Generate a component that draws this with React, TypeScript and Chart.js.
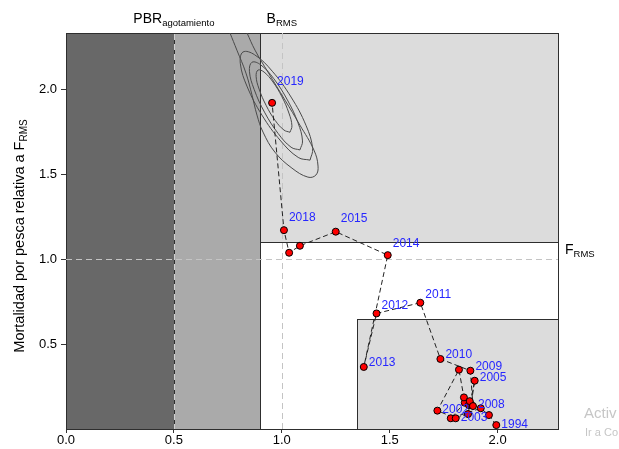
import React, { useEffect, useRef } from "react";
import { Chart, registerables } from "chart.js";

Chart.register(...registerables);

// ---------- data ----------
const years = [1994, 1995, 1996, 1997, 1998, 1999, 2000, 2001, 2002, 2003, 2004, 2005, 2006, 2007, 2008, 2009, 2010, 2011, 2012, 2013, 2014, 2015, 2016, 2017, 2018, 2019];
// biomass relative to B_RMS (x)
const bRel = [1.994, 1.960, 1.922, 1.783, 1.848, 1.867, 1.844, 1.821, 1.721, 1.806, 1.863, 1.894, 1.877, 1.871, 1.886, 1.874, 1.735, 1.642, 1.439, 1.380, 1.491, 1.250, 1.084, 1.034, 1.010, 0.955];
// fishing mortality relative to F_RMS (y)
const fRel = [0.023, 0.082, 0.122, 0.063, 0.155, 0.141, 0.186, 0.349, 0.108, 0.063, 0.088, 0.284, 0.144, 0.164, 0.135, 0.343, 0.412, 0.743, 0.680, 0.365, 1.023, 1.161, 1.078, 1.037, 1.170, 1.919];
const labeledYears = [1994, 2002, 2003, 2005, 2008, 2009, 2010, 2011, 2012, 2013, 2014, 2015, 2018, 2019];

const xTicks = [0, 0.5, 1.0, 1.5, 2.0];
const yTicks = [0.5, 1.0, 1.5, 2.0];

// reference values
const PBR_AGOT = 0.5;
const B_LIM = 0.9;
const B_RMS = 1.0;
const F_RMS = 1.0;
const F_UPPER = 1.1;
const BOX_B = 1.35;
const BOX_F = 0.65;
const X_MAX = 2.28;
const Y_MAX = 2.33;

// density contours around the last year (outer -> inner)
const contourOuterX = [0.760, 0.792, 0.834, 0.862, 0.885, 0.913, 0.968, 1.047, 1.121, 1.158, 1.168, 1.149, 1.084, 1.015, 0.936, 0.876, 0.839];
const contourOuterY = [2.33, 2.229, 2.094, 1.965, 1.847, 1.747, 1.629, 1.535, 1.482, 1.494, 1.547, 1.641, 1.788, 1.935, 2.100, 2.229, 2.33];
const contour2X = [1.131, 1.143, 1.112, 1.043, 0.956, 0.874, 0.820, 0.808, 0.840, 0.908, 0.995, 1.076, 1.131];
const contour2Y = [1.582, 1.651, 1.787, 1.953, 2.105, 2.202, 2.218, 2.149, 2.013, 1.847, 1.695, 1.598, 1.582];
const contour3X = [1.084, 1.096, 1.075, 1.026, 0.963, 0.903, 0.862, 0.850, 0.872, 0.920, 0.983, 1.043, 1.084];
const contour3Y = [1.642, 1.695, 1.802, 1.936, 2.061, 2.142, 2.158, 2.105, 1.998, 1.864, 1.739, 1.658, 1.642];
const contour4X = [1.038, 1.047, 1.033, 1.001, 0.959, 0.918, 0.890, 0.881, 0.895, 0.927, 0.969, 1.010, 1.038];
const contour4Y = [1.746, 1.784, 1.859, 1.954, 2.042, 2.100, 2.112, 2.075, 2.000, 1.905, 1.816, 1.759, 1.746];

const FONT = "'Liberation Sans', Arial, Helvetica, sans-serif";

function pts(xs: number[], ys: number[]) {
  return xs.map((x, i) => ({ x, y: ys[i] }));
}

function drawSub(ctx: CanvasRenderingContext2D, main: string, sub: string, x: number, y: number, size: number, subSize: number, align: "center" | "left") {
  ctx.font = `${size}px ${FONT}`;
  const wm = ctx.measureText(main).width;
  ctx.font = `${subSize}px ${FONT}`;
  const ws = ctx.measureText(sub).width;
  const start = align === "center" ? x - (wm + ws) / 2 : x;
  ctx.textAlign = "left";
  ctx.textBaseline = "alphabetic";
  ctx.font = `${size}px ${FONT}`;
  ctx.fillText(main, start, y);
  ctx.font = `${subSize}px ${FONT}`;
  ctx.fillText(sub, start + wm, y + 3);
}

const backgroundPlugin = {
  id: "zones",
  beforeDatasetsDraw(chart: any) {
    const { ctx, chartArea, scales } = chart;
    const xs = scales.x, ys = scales.y;
    const px = (v: number) => Math.round(xs.getPixelForValue(v)) + 0.5;
    const py = (v: number) => Math.round(ys.getPixelForValue(v)) + 0.5;
    ctx.save();
    const rect = (x0: number, x1: number, y0: number, y1: number, fill: string | null) => {
      const a = px(x0), b = px(x1), c = py(y1), d = py(y0);
      if (fill) {
        ctx.fillStyle = fill;
        ctx.fillRect(a, c, b - a, d - c);
      }
      ctx.strokeStyle = "#2e2e2e";
      ctx.lineWidth = 1;
      ctx.setLineDash([]);
      ctx.strokeRect(a, c, b - a, d - c);
    };
    rect(B_LIM, X_MAX, F_UPPER, Y_MAX, "#dcdcdc");
    rect(B_LIM, X_MAX, 0, F_UPPER, null);
    rect(BOX_B, X_MAX, 0, BOX_F, "#dcdcdc");
    rect(PBR_AGOT, B_LIM, 0, Y_MAX, "#aaaaaa");
    rect(0, PBR_AGOT, 0, Y_MAX, "#686868");

    // dashed reference lines
    ctx.lineWidth = 1;
    ctx.setLineDash([6, 4]);
    ctx.strokeStyle = "#c4c4c4";
    ctx.beginPath();
    ctx.moveTo(chartArea.left, py(F_RMS));
    ctx.lineTo(chartArea.right, py(F_RMS));
    ctx.moveTo(px(B_RMS), chartArea.top);
    ctx.lineTo(px(B_RMS), chartArea.bottom);
    ctx.stroke();
    ctx.strokeStyle = "#cfcfcf";
    ctx.beginPath();
    ctx.moveTo(px(PBR_AGOT), chartArea.top + 1);
    ctx.lineTo(px(PBR_AGOT), chartArea.bottom);
    ctx.stroke();
    ctx.restore();
  },
  afterDraw(chart: any) {
    const { ctx, chartArea, scales } = chart;
    const xs = scales.x, ys = scales.y;
    ctx.save();
    // year labels
    ctx.fillStyle = "#2626ff";
    ctx.font = `12px ${FONT}`;
    ctx.textAlign = "left";
    ctx.textBaseline = "middle";
    years.forEach((yr, i) => {
      if (!labeledYears.includes(yr)) return;
      const x = xs.getPixelForValue(bRel[i]) + 5;
      const y = ys.getPixelForValue(fRel[i] * 1.065);
      ctx.fillText(String(yr), x, y);
    });
    // reference labels
    ctx.fillStyle = "#000";
    drawSub(ctx, "PBR", "agotamiento", xs.getPixelForValue(PBR_AGOT), 23, 14, 9.5, "center");
    drawSub(ctx, "B", "RMS", xs.getPixelForValue(B_RMS), 23, 14, 9.5, "center");
    drawSub(ctx, "F", "RMS", chartArea.right + 7, ys.getPixelForValue(F_RMS) - 5, 14, 9.5, "left");
    // y axis title
    const t1 = "Mortalidad por pesca relativa a F";
    ctx.font = `14.5px ${FONT}`;
    const w1 = ctx.measureText(t1).width;
    ctx.font = `10px ${FONT}`;
    const w2 = ctx.measureText("RMS").width;
    ctx.save();
    ctx.translate(24, 236);
    ctx.rotate(-Math.PI / 2);
    ctx.fillStyle = "#000";
    drawSub(ctx, t1, "RMS", -(w1 + w2) / 2, 0, 14.5, 10, "left");
    ctx.restore();
    // watermark
    ctx.fillStyle = "#c6c6c6";
    ctx.textAlign = "left";
    ctx.textBaseline = "alphabetic";
    ctx.font = `15px ${FONT}`;
    ctx.fillText("Activ", 584, 418);
    ctx.font = `11px ${FONT}`;
    ctx.fillText("Ir a Co", 585, 436);
    ctx.restore();
  },
};

export default function App() {
  const ref = useRef<HTMLCanvasElement>(null);
  useEffect(() => {
    Chart.defaults.font.family = FONT;
    const contourStyle = {
      showLine: true,
      pointRadius: 0,
      borderColor: "#4a4a4a",
      borderWidth: 1,
      tension: 0.4,
      order: 2,
    };
    const chart = new Chart(ref.current as HTMLCanvasElement, {
      type: "scatter",
      data: {
        datasets: [
          {
            label: "trayectoria",
            data: pts(bRel, fRel),
            showLine: true,
            borderColor: "#222",
            borderWidth: 1,
            borderDash: [5, 3],
            pointBackgroundColor: "#ff0000",
            pointBorderColor: "#000",
            pointBorderWidth: 1,
            pointRadius: 3.5,
            tension: 0,
            order: 0,
          } as any,
          { label: "c1", data: pts(contourOuterX, contourOuterY), ...contourStyle } as any,
          { label: "c2", data: pts(contour2X, contour2Y), ...contourStyle } as any,
          { label: "c3", data: pts(contour3X, contour3Y), ...contourStyle } as any,
          { label: "c4", data: pts(contour4X, contour4Y), ...contourStyle } as any,
        ],
      },
      options: {
        animation: false,
        responsive: false,
        devicePixelRatio: 1,
        layout: { padding: { left: 0, top: 33, right: 61, bottom: 0 } },
        plugins: { legend: { display: false }, tooltip: { enabled: false } },
        scales: {
          x: {
            type: "linear",
            min: 0,
            max: X_MAX,
            afterFit: (s: any) => { s.height = 20; },
            afterBuildTicks: (a: any) => { a.ticks = xTicks.map((v) => ({ value: v })); },
            ticks: { color: "#000", font: { size: 13, family: FONT }, padding: 0, callback: (v: any) => Number(v).toFixed(1) },
            grid: { display: true, drawOnChartArea: false, drawTicks: true, tickLength: 4, color: "#333" },
            border: { display: false },
          },
          y: {
            type: "linear",
            min: 0,
            max: Y_MAX,
            afterFit: (s: any) => { s.width = 66; },
            afterBuildTicks: (a: any) => { a.ticks = yTicks.map((v) => ({ value: v })); },
            ticks: { color: "#000", font: { size: 13, family: FONT }, padding: 4, callback: (v: any) => Number(v).toFixed(1) },
            grid: { display: true, drawOnChartArea: false, drawTicks: true, tickLength: 5, color: "#333" },
            border: { display: false },
          },
        },
      } as any,
      plugins: [backgroundPlugin],
    });
    return () => chart.destroy();
  }, []);
  return (
    <div style={{ position: "absolute", left: 0, top: 0, width: 619, height: 449, background: "#fff" }}>
      <canvas ref={ref} width={619} height={449} style={{ display: "block", width: 619, height: 449 }} />
    </div>
  );
}
